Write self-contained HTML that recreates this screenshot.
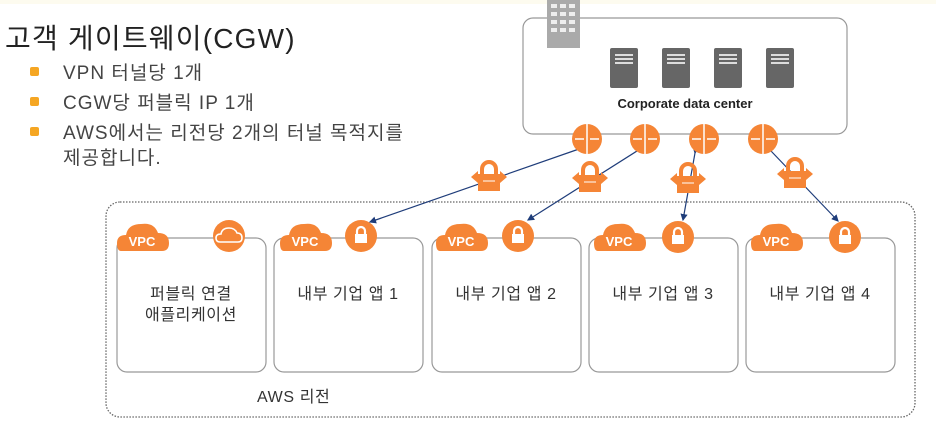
<!DOCTYPE html>
<html><head><meta charset="utf-8"><style>
html,body{margin:0;padding:0;background:#fff;}
svg{display:block;}
text{font-family:"Liberation Sans","Noto Sans CJK KR",sans-serif;}
</style></head><body>
<svg width="936" height="428" viewBox="0 0 936 428" xmlns="http://www.w3.org/2000/svg">
<defs>
<g id="vpc">
  <path d="M-24,11 Q-28,11 -28,3 Q-28,-5 -19,-5 Q-17,-16 -4,-16 Q9,-18 13,-7 Q24,-7 24,3 Q24,11 17,11 Z" fill="#F58536"/>
  <text x="-3" y="6" font-size="13" font-weight="bold" fill="#fff" text-anchor="middle">VPC</text>
</g>
<g id="lockc">
  <circle r="16" fill="#F58536"/>
  <rect x="-6" y="-2" width="12" height="9" fill="#fff"/>
  <path d="M-4,-2 V-5 A4,4 0 0 1 4,-5 V-2" stroke="#fff" stroke-width="2.2" fill="none"/>
</g>
<g id="router">
  <circle r="15" fill="#F58536"/>
  <line x1="0" y1="-15" x2="0" y2="15" stroke="#fff" stroke-width="1.5"/>
  <line x1="-12" y1="0" x2="-3" y2="0" stroke="#fff" stroke-width="1.5"/>
  <line x1="3" y1="0" x2="12" y2="0" stroke="#fff" stroke-width="1.5"/>
</g>
<g id="pad">
  <path d="M-18,0 L-11,-6 L-11,6 Z M18,0 L11,-6 L11,6 Z" fill="#F58536"/>
  <rect x="-12" y="-2" width="24" height="4" fill="#F58536"/>
  <path d="M-7,-3 V-8 A7,7 0 0 1 7,-8 V-3" stroke="#F58536" stroke-width="4" fill="none"/>
  <rect x="-11" y="-3" width="22" height="17" fill="#F58536"/>
  <line x1="-6" y1="4" x2="6" y2="4" stroke="#fff" stroke-width="1"/>
</g>
<g id="srv">
  <rect x="0" y="0" width="28" height="40" rx="2" fill="#666"/>
  <rect x="5" y="6" width="18" height="2" fill="#ddd"/>
  <rect x="5" y="10" width="18" height="2" fill="#ddd"/>
  <rect x="5" y="14" width="18" height="2" fill="#ddd"/>
</g>
<marker id="ah" markerWidth="6" markerHeight="6" refX="5" refY="3" orient="auto"><path d="M0,0 L6,3 L0,6 Z" fill="#1f3d7a"/></marker>
</defs>
<rect x="0" y="0" width="936" height="4" fill="#fdfbef"/>
<text x="5" y="48" font-size="28" letter-spacing="1.2" fill="#222">고객 게이트웨이(CGW)</text>
<g fill="#F5A623">
<rect x="30" y="67" width="9" height="9" rx="2"/><rect x="30" y="97" width="9" height="9" rx="2"/><rect x="30" y="127" width="9" height="9" rx="2"/>
</g>
<g font-size="19" letter-spacing="1" fill="#444">
<text x="63" y="79">VPN 터널당 1개</text>
<text x="63" y="109">CGW당 퍼블릭 IP 1개</text>
<text x="63" y="139">AWS에서는 리전당 2개의 터널 목적지를</text>
<text x="63" y="164">제공합니다.</text>
</g>
<!-- datacenter -->
<rect x="523" y="18" width="324" height="116" rx="10" fill="#fff" stroke="#999" stroke-width="1.2"/>
<rect x="547" y="0" width="33" height="48" fill="#aaa"/>
<g fill="#eee"><rect x="551" y="4" width="6" height="4"/><rect x="560" y="4" width="6" height="4"/><rect x="569" y="4" width="6" height="4"/>
<rect x="551" y="12" width="6" height="4"/><rect x="560" y="12" width="6" height="4"/><rect x="569" y="12" width="6" height="4"/>
<rect x="551" y="20" width="6" height="4"/><rect x="560" y="20" width="6" height="4"/><rect x="569" y="20" width="6" height="4"/>
<rect x="551" y="28" width="6" height="4"/><rect x="560" y="28" width="6" height="4"/><rect x="569" y="28" width="6" height="4"/></g>
<use href="#srv" x="610" y="48"/><use href="#srv" x="662" y="48"/><use href="#srv" x="714" y="48"/><use href="#srv" x="766" y="48"/>
<text x="685" y="108" font-size="13" font-weight="bold" fill="#222" text-anchor="middle">Corporate data center</text>
<!-- AWS region -->
<rect x="106" y="202" width="809" height="215" rx="14" fill="none" stroke="#666" stroke-width="1.3" stroke-dasharray="1.5 1.5"/>
<g fill="#fff" stroke="#999" stroke-width="1.2">
<rect x="117" y="238" width="149" height="134" rx="10"/>
<rect x="274" y="238" width="149" height="134" rx="10"/>
<rect x="432" y="238" width="149" height="134" rx="10"/>
<rect x="589" y="238" width="149" height="134" rx="10"/>
<rect x="746" y="238" width="149" height="134" rx="10"/>
</g>
<use href="#vpc" x="145" y="240"/><use href="#vpc" x="308" y="240"/><use href="#vpc" x="464" y="240"/><use href="#vpc" x="622" y="240"/><use href="#vpc" x="779" y="240"/>
<circle cx="229" cy="236" r="16" fill="#F58536"/>
<path d="M220,242 Q216,242 216,238 Q216,234 221,234 Q222,228 229,228 Q235,228 237,233 Q242,233 242,238 Q242,242 238,242 Z" fill="none" stroke="#fff" stroke-width="1.6"/>
<use href="#lockc" x="361" y="236"/><use href="#lockc" x="518" y="236"/><use href="#lockc" x="678" y="237"/><use href="#lockc" x="845" y="237"/>
<g font-size="16" letter-spacing="0.6" fill="#333" text-anchor="middle">
<text x="191" y="299">퍼블릭 연결</text><text x="191" y="320">애플리케이션</text>
<text x="348" y="299">내부 기업 앱 1</text>
<text x="506" y="299">내부 기업 앱 2</text>
<text x="663" y="299">내부 기업 앱 3</text>
<text x="820" y="299">내부 기업 앱 4</text>
</g>
<text x="257" y="402" font-size="16" letter-spacing="0.6" fill="#333">AWS 리전</text>
<!-- connectors -->
<g stroke="#1f3d7a" stroke-width="1.2" fill="none">
<line x1="579" y1="149" x2="370" y2="222" marker-end="url(#ah)" marker-start="url(#ah)"/>
<line x1="637" y1="151" x2="528" y2="220" marker-end="url(#ah)" marker-start="url(#ah)"/>
<line x1="695" y1="153" x2="683" y2="220" marker-end="url(#ah)" marker-start="url(#ah)"/>
<line x1="771" y1="151" x2="838" y2="221" marker-end="url(#ah)" marker-start="url(#ah)"/>
</g>
<use href="#router" x="587" y="139"/><use href="#router" x="645" y="139"/><use href="#router" x="704" y="139"/><use href="#router" x="763" y="139"/>
<use href="#pad" x="489" y="177"/><use href="#pad" x="590" y="178"/><use href="#pad" x="688" y="179"/><use href="#pad" x="795" y="174"/>
</svg>
</body></html>
